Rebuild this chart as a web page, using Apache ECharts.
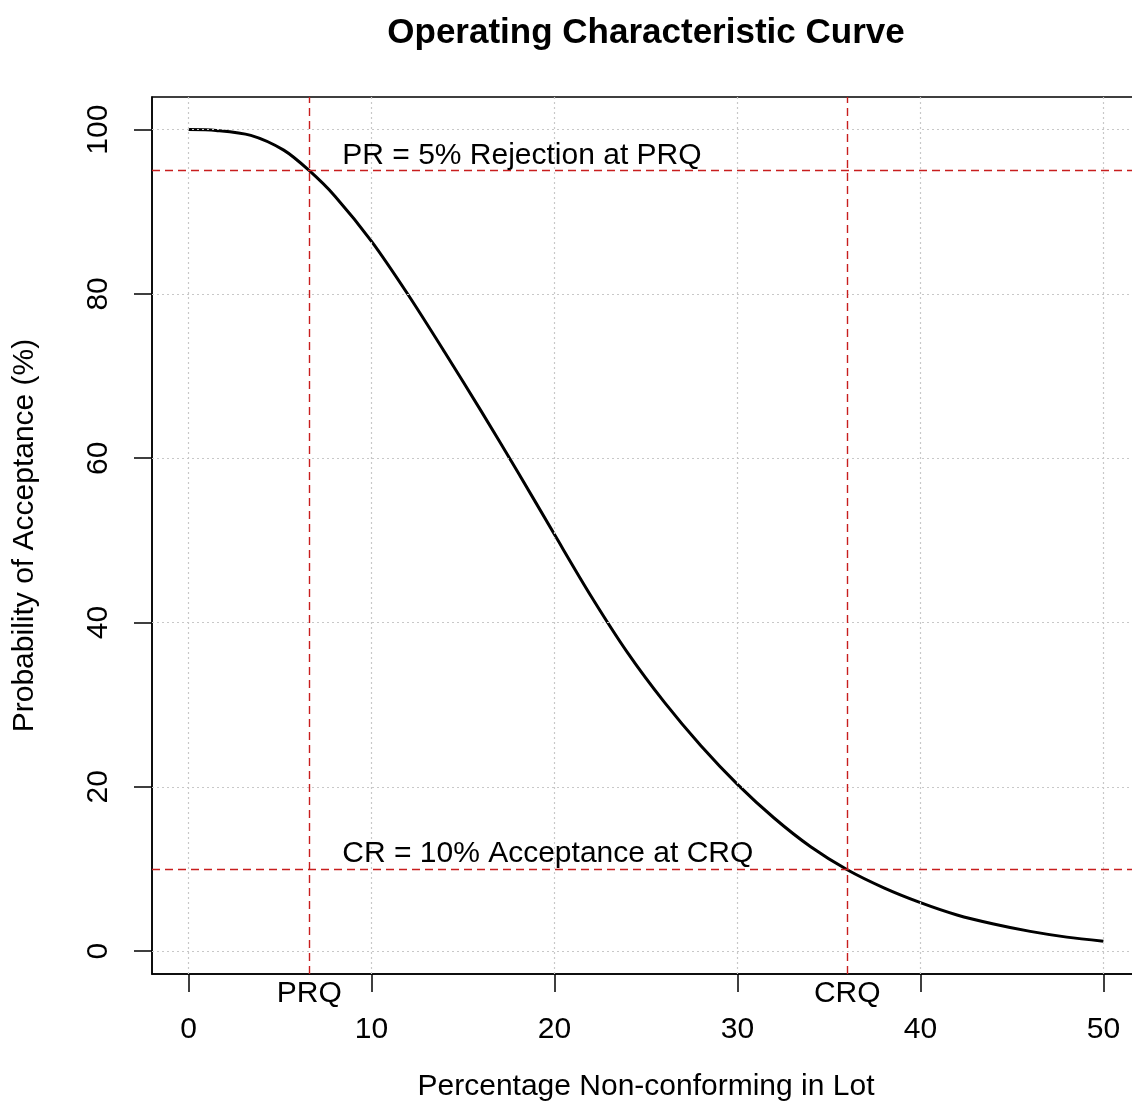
<!DOCTYPE html>
<html>
<head>
<meta charset="utf-8">
<title>Operating Characteristic Curve</title>
<script src="https://cdn.jsdelivr.net/npm/echarts@6/dist/echarts.min.js"></script>
<style>
  html, body { margin: 0; padding: 0; background: #ffffff; }
  #chart { width: 1132px; height: 1117px; }
</style>
</head>
<body>
<div id="chart"></div>
<script>
// Percentage non-conforming in the lot and the matching probability of acceptance (%)
const pctNonconforming = [0, 1.5, 3.4, 5.2, 6.6, 8, 10, 12, 14, 16, 18, 20, 22, 24, 26, 28,
  30, 32, 34, 36, 38, 40, 42, 44, 46, 48, 50];
const probAccept = [100.0, 99.9, 99.3, 97.5, 95.0, 91.9, 86.4, 79.9, 72.9, 65.7, 58.3, 50.7, 43.2, 36.3,
  30.3, 25.0, 20.3, 16.2, 12.7, 9.9, 7.7, 5.9, 4.4, 3.3, 2.4, 1.7, 1.2];

// Axis ticks
const xTicks = [0, 10, 20, 30, 40, 50];
const yTicks = [0, 20, 40, 60, 80, 100];
const xRange = [-2, 52];
const yRange = [-2.79, 103.97];

// Quality levels (producer's / consumer's risk quality) and risk levels
const qualityLevels = [6.6, 36.0];
const qualityNames = ['PRQ', 'CRQ'];
const riskLevels = [95, 10];

// Risk annotations
const noteX = [8.4, 8.4];
const noteY = [96.8, 11.9];
const noteText = ['PR = 5% Rejection at PRQ', 'CR = 10% Acceptance at CRQ'];

const FONT = 'Liberation Sans, Arial, Helvetica, sans-serif';
const curve = pctNonconforming.map((x, i) => [x, probAccept[i]]);
const notes = noteX.map((x, i) => [x, noteY[i]]);

const chart = echarts.init(document.getElementById('chart'), null, { renderer: 'canvas' });

chart.setOption({
  animation: false,
  backgroundColor: '#ffffff',
  textStyle: { fontFamily: FONT },
  title: {
    text: 'Operating Characteristic Curve',
    left: 646,
    top: 16,
    padding: 0,
    textAlign: 'center',
    textStyle: { fontFamily: FONT, fontSize: 35, fontWeight: 'bold', color: '#000000' }
  },
  grid: {
    left: 152, top: 97, width: 988, height: 877,
    show: true, borderColor: '#000000', borderWidth: 1.5,
    containLabel: false, outerBoundsMode: 'none'
  },
  xAxis: [
    {
      type: 'value', min: xRange[0], max: xRange[1],
      name: 'Percentage Non-conforming in Lot',
      nameLocation: 'middle', nameGap: 98,
      nameTextStyle: { fontFamily: FONT, fontSize: 30, color: '#000000' },
      axisLine: { show: true, onZero: false, lineStyle: { color: '#000000', width: 1.5 } },
      axisTick: { show: true, customValues: xTicks, length: 18, inside: false,
        lineStyle: { color: '#000000', width: 1.5 } },
      axisLabel: { customValues: xTicks, margin: 41, fontFamily: FONT, fontSize: 30, color: '#000000' },
      splitLine: { show: false }
    },
    {
      type: 'value', min: xRange[0], max: xRange[1], position: 'bottom', gridIndex: 0,
      axisLine: { show: false, onZero: false }, axisTick: { show: false }, splitLine: { show: false },
      axisLabel: {
        customValues: qualityLevels, margin: 5, fontFamily: FONT, fontSize: 30, color: '#000000',
        formatter: v => qualityNames[qualityLevels.indexOf(v)] || ''
      }
    }
  ],
  yAxis: {
    type: 'value', min: yRange[0], max: yRange[1],
    name: 'Probability of Acceptance (%)',
    nameLocation: 'middle', nameGap: 112,
    nameTextStyle: { fontFamily: FONT, fontSize: 30, color: '#000000' },
    axisLine: { show: true, onZero: false, lineStyle: { color: '#000000', width: 1.5 } },
    axisTick: { show: true, customValues: yTicks, length: 18, inside: false,
      lineStyle: { color: '#000000', width: 1.5 } },
    axisLabel: { customValues: yTicks, rotate: 90, margin: 38, fontFamily: FONT, fontSize: 30, color: '#000000' },
    splitLine: { show: false }
  },
  series: [
    {
      // dotted reference grid
      type: 'line', data: [], z: 1, silent: true,
      markLine: {
        silent: true, symbol: 'none', animation: false,
        label: { show: false },
        lineStyle: { color: '#c8c8c8', width: 1.2, type: [2, 3], opacity: 1 },
        data: xTicks.map(v => ({ xAxis: v })).concat(yTicks.map(v => ({ yAxis: v })))
      }
    },
    {
      type: 'line', name: 'OC curve', data: curve, z: 3,
      showSymbol: false, smooth: 0.3,
      lineStyle: { color: '#000000', width: 3 }
    },
    {
      // risk / quality reference lines
      type: 'line', data: [], z: 4, silent: true,
      markLine: {
        silent: true, symbol: 'none', animation: false,
        label: { show: false },
        lineStyle: { color: '#c81e1e', width: 1.4, type: [8, 5], opacity: 1 },
        data: qualityLevels.map(v => ({ xAxis: v })).concat(riskLevels.map(v => ({ yAxis: v })))
      }
    },
    {
      type: 'scatter', data: notes, symbolSize: 0, z: 5, silent: true,
      itemStyle: { opacity: 1 },
      label: {
        show: true, position: 'right', distance: 0,
        fontFamily: FONT, fontSize: 30, color: '#000000', opacity: 1,
        formatter: p => noteText[p.dataIndex]
      }
    }
  ]
});
</script>
</body>
</html>
